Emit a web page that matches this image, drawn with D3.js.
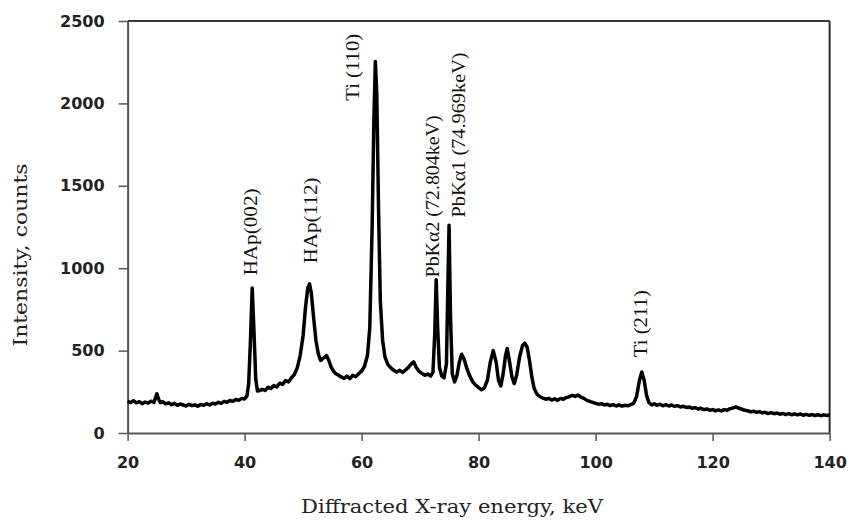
<!DOCTYPE html>
<html>
<head>
<meta charset="utf-8">
<script src="https://cdn.jsdelivr.net/npm/d3@7"></script>
<style>
  html, body { margin: 0; padding: 0; background: #fff; }
  svg { display: block; }
</style>
</head>
<body>
<svg id="chart" width="849" height="525"></svg>
<script>
// ---- data ----
const energyKeV = [
  20.0,20.5,21.0,21.5,22.0,22.5,23.0,23.5,24.0,24.5,
  25.0,25.3,25.6,26.0,26.5,27.0,27.5,28.0,28.5,29.0,
  29.5,30.0,30.5,31.0,31.5,32.0,32.5,33.0,33.5,34.0,
  34.5,35.0,35.5,36.0,36.5,37.0,37.5,38.0,38.5,39.0,
  39.5,40.0,40.4,40.7,41.0,41.3,41.6,41.9,42.2,42.6,
  43.0,43.5,44.0,44.5,45.0,45.5,46.0,46.5,47.0,47.5,
  48.0,48.5,49.0,49.5,50.0,50.4,50.8,51.1,51.4,51.8,
  52.2,52.6,53.0,53.5,54.0,54.4,54.8,55.2,55.6,56.0,
  56.5,57.0,57.5,58.0,58.5,59.0,59.5,60.0,60.5,61.0,
  61.4,61.8,62.1,62.35,62.6,62.9,63.2,63.6,64.0,64.5,
  65.0,65.5,66.0,66.5,67.0,67.5,68.0,68.5,68.9,69.3,
  69.8,70.3,70.8,71.3,71.8,72.2,72.5,72.75,73.0,73.3,
  73.7,74.1,74.5,74.75,74.95,75.2,75.5,75.9,76.3,76.7,
  77.1,77.5,78.0,78.5,79.0,79.5,80.0,80.5,81.0,81.5,
  82.0,82.5,83.0,83.4,83.8,84.2,84.6,84.9,85.3,85.7,
  86.1,86.5,87.0,87.5,87.9,88.3,88.7,89.1,89.5,90.0,
  90.5,91.0,91.5,92.0,92.5,93.0,93.5,94.0,94.5,95.0,
  95.5,96.0,96.5,97.0,97.5,98.0,98.5,99.0,99.5,100.0,
  100.5,101.0,101.5,102.0,102.5,103.0,103.5,104.0,104.5,105.0,
  105.5,106.0,106.5,107.0,107.5,107.9,108.3,108.7,109.1,109.6,
  110.0,110.5,111.0,111.5,112.0,112.5,113.0,113.5,114.0,114.5,
  115.0,115.5,116.0,116.5,117.0,117.5,118.0,118.5,119.0,119.5,
  120.0,120.5,121.0,121.5,122.0,122.5,123.0,123.5,124.0,124.5,
  125.0,125.5,126.0,126.5,127.0,127.5,128.0,128.5,129.0,129.5,
  130.0,130.5,131.0,131.5,132.0,132.5,133.0,133.5,134.0,134.5,
  135.0,135.5,136.0,136.5,137.0,137.5,138.0,138.5,139.0,139.5,
  140.0
];
const intensityCounts = [
  192,185,196,183,190,178,188,181,193,186,
  238,205,184,190,176,183,172,180,168,176,
  170,164,174,166,171,162,173,168,178,170,
  181,176,186,180,192,186,197,192,203,198,
  210,206,225,300,560,880,620,330,255,258,
  265,258,278,270,288,280,302,295,318,310,
  335,355,395,470,590,760,880,905,850,700,
  560,480,440,455,470,440,400,375,360,352,
  340,332,345,330,350,342,360,375,405,470,
  640,1250,1900,2255,2050,1350,800,560,460,415,
  395,380,370,380,368,382,398,420,432,400,
  375,362,350,358,345,370,600,930,640,400,
  345,335,420,900,1260,700,360,310,350,430,
  478,450,390,345,310,290,275,262,275,320,
  430,500,430,320,285,360,470,512,430,340,
  300,350,460,530,545,520,440,340,270,235,
  220,212,205,210,200,208,198,210,205,215,
  220,228,222,230,218,210,198,192,186,180,
  175,178,170,174,166,172,164,170,163,168,
  165,172,180,220,320,370,320,230,185,170,
  178,168,175,165,172,164,170,162,166,158,
  162,155,158,150,154,146,150,142,146,138,
  142,135,140,134,142,138,148,152,158,150,
  144,138,135,128,132,125,130,122,126,118,
  124,117,121,114,119,112,118,111,116,110,
  115,108,113,107,112,106,111,105,110,106,
  109
];
const xTicks = [20, 40, 60, 80, 100, 120, 140];
const yTicks = [0, 500, 1000, 1500, 2000, 2500];
const peakLabels = ["HAp(002)", "HAp(112)", "Ti (110)", "PbKα2 (72.804keV)", "PbKα1 (74.969keV)", "Ti (211)"];
const peakLabelEnergy = [40.9, 51.2, 58.4, 72.0, 76.5, 107.6];
const peakLabelCount = [956, 1029, 2016, 944, 1308, 460];
const peakLabelLength = [87, 86, 67, 162, 165, 67];
const xTitle = "Diffracted X-ray energy, keV";
const yTitle = "Intensity, counts";

// ---- layout ----
const svg = d3.select("#chart");
const x = d3.scaleLinear().domain([20, 140]).range([127.6, 829.6]);
const y = d3.scaleLinear().domain([0, 2500]).range([433, 21]);

const points = energyKeV.map((e, i) => [e, intensityCounts[i]]);

// frame (top and right)
svg.append("line")
  .attr("x1", x(20)).attr("x2", x(140)).attr("y1", y(2500)).attr("y2", y(2500))
  .attr("stroke", "#3a3a3a").attr("stroke-width", 2);
svg.append("line")
  .attr("x1", x(140)).attr("x2", x(140)).attr("y1", y(2500)).attr("y2", y(0))
  .attr("stroke", "#2a2a2a").attr("stroke-width", 2);

// axes
const fmt = d3.format("d");
const yAxis = svg.append("g")
  .attr("transform", `translate(${x(20)},0)`)
  .call(d3.axisLeft(y).tickValues(yTicks).tickFormat(fmt).tickSize(9).tickSizeOuter(0).tickPadding(14));
const xAxis = svg.append("g")
  .attr("transform", `translate(0,${y(0)})`)
  .call(d3.axisBottom(x).tickValues(xTicks).tickFormat(fmt).tickSize(8).tickSizeOuter(0).tickPadding(16));

[yAxis, xAxis].forEach(g => {
  g.select(".domain").attr("stroke", "#555").attr("stroke-width", 2);
  g.selectAll(".tick line").attr("stroke", "#555").attr("stroke-width", 1.5);
  g.selectAll(".tick text")
    .attr("font-family", "'DejaVu Sans', sans-serif")
    .attr("font-weight", "bold")
    .attr("font-size", 16)
    .attr("fill", "#222");
});

// spectrum line
const line = d3.line().x(d => x(d[0])).y(d => y(d[1]));
svg.append("path")
  .datum(points)
  .attr("d", line)
  .attr("fill", "none")
  .attr("stroke", "#000")
  .attr("stroke-width", 3.5)
  .attr("stroke-linejoin", "round");

// peak labels (rotated)
peakLabels.forEach((t, i) => {
  const px = x(peakLabelEnergy[i]) + 7;
  const py = y(peakLabelCount[i]);
  svg.append("text")
    .attr("transform", `translate(${px},${py}) rotate(-90)`)
    .attr("font-family", "'Liberation Serif', serif")
    .attr("font-size", 19)
    .attr("fill", "#111")
    .attr("textLength", peakLabelLength[i])
    .attr("lengthAdjust", "spacingAndGlyphs")
    .text(t);
});

// axis titles
svg.append("text")
  .attr("x", 452).attr("y", 513)
  .attr("text-anchor", "middle")
  .attr("font-family", "'DejaVu Serif', serif")
  .attr("font-size", 19)
  .attr("fill", "#222")
  .attr("textLength", 302)
  .attr("lengthAdjust", "spacingAndGlyphs")
  .text(xTitle);
svg.append("text")
  .attr("transform", "translate(27,255) rotate(-90)")
  .attr("text-anchor", "middle")
  .attr("font-family", "'DejaVu Serif', serif")
  .attr("font-size", 19)
  .attr("fill", "#222")
  .attr("textLength", 183)
  .attr("lengthAdjust", "spacingAndGlyphs")
  .text(yTitle);
</script>
</body>
</html>
